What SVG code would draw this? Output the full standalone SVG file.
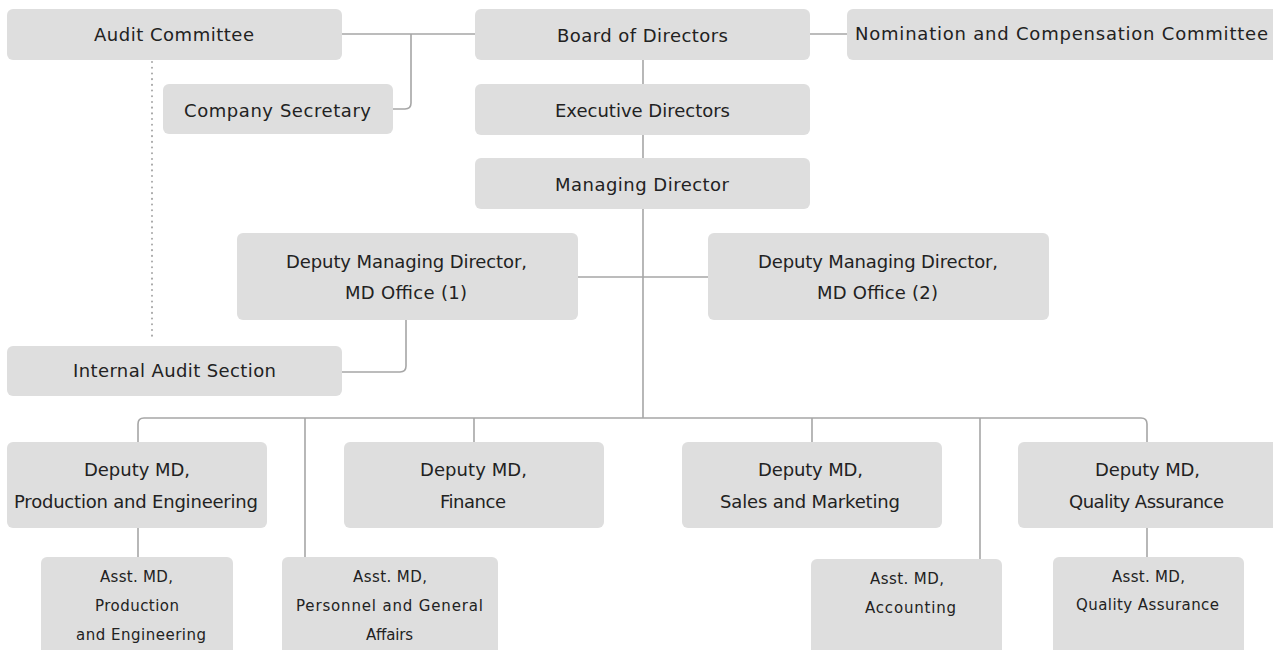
<svg xmlns="http://www.w3.org/2000/svg" width="1273" height="650" viewBox="0 0 1273 650">
<style>
  .box { fill: #dedede; }
  .t { font-family: "DejaVu Sans", "Noto Sans", sans-serif; font-size: 18px; fill: #222; text-anchor: middle; }
  .s { font-family: "DejaVu Sans", "Noto Sans", sans-serif; font-size: 15px; fill: #222; text-anchor: middle; }
  .c { fill: none; stroke: #a6a6a6; stroke-width: 1.6; }
  .d { fill: none; stroke: #a6a6a6; stroke-width: 2; stroke-dasharray: 0.1 5.6; stroke-linecap: round; }
</style>
<rect width="1273" height="650" fill="#ffffff"/>
<g id="connectors">
  <path class="c" d="M342,34 H475"/>
  <path class="c" d="M393,109 H405 Q411,109 411,103 V34"/>
  <path class="c" d="M810,34 H847"/>
  <path class="c" d="M643,60 V84"/>
  <path class="c" d="M643,135 V158"/>
  <path class="c" d="M643,209 V418"/>
  <path class="c" d="M578,277 H708"/>
  <path class="c" d="M406,320 V366 Q406,372 400,372 H342"/>
  <path class="d" d="M152,62 V341"/>
  <path class="c" d="M138,442 V424 Q138,418 144,418 H1141 Q1147,418 1147,424 V442"/>
  <path class="c" d="M474,418 V442"/>
  <path class="c" d="M812,418 V442"/>
  <path class="c" d="M305,418 V557"/>
  <path class="c" d="M980,418 V559"/>
  <path class="c" d="M138,528 V557"/>
  <path class="c" d="M1147,528 V557"/>
</g>
<g id="audit-committee">
  <rect class="box" x="7" y="9" width="335" height="51" rx="6"/>
  <text class="t" x="174" y="41" textLength="160" lengthAdjust="spacing">Audit Committee</text>
</g>
<g id="board">
  <rect class="box" x="475" y="9" width="335" height="51" rx="6"/>
  <text class="t" x="642.5" y="42" textLength="171" lengthAdjust="spacing">Board of Directors</text>
</g>
<g id="nomination">
  <rect class="box" x="847" y="9" width="440" height="51" rx="6"/>
  <text class="t" x="1061.5" y="40" textLength="413" lengthAdjust="spacing">Nomination and Compensation Committee</text>
</g>
<g id="company-secretary">
  <rect class="box" x="163" y="84" width="230" height="50" rx="6"/>
  <text class="t" x="277.5" y="117" textLength="187" lengthAdjust="spacing">Company Secretary</text>
</g>
<g id="executive">
  <rect class="box" x="475" y="84" width="335" height="51" rx="6"/>
  <text class="t" x="642.5" y="117" textLength="175" lengthAdjust="spacing">Executive Directors</text>
</g>
<g id="managing">
  <rect class="box" x="475" y="158" width="335" height="51" rx="6"/>
  <text class="t" x="642" y="191" textLength="174" lengthAdjust="spacing">Managing Director</text>
</g>
<g id="dmd1">
  <rect class="box" x="237" y="233" width="341" height="87" rx="6"/>
  <text class="t" x="406.5" y="268" textLength="241" lengthAdjust="spacing">Deputy Managing Director,</text>
  <text class="t" x="406" y="299" textLength="122" lengthAdjust="spacing">MD Office (1)</text>
</g>
<g id="dmd2">
  <rect class="box" x="708" y="233" width="341" height="87" rx="6"/>
  <text class="t" x="878" y="268" textLength="240" lengthAdjust="spacing">Deputy Managing Director,</text>
  <text class="t" x="877.5" y="299" textLength="121" lengthAdjust="spacing">MD Office (2)</text>
</g>
<g id="internal-audit">
  <rect class="box" x="7" y="346" width="335" height="50" rx="6"/>
  <text class="t" x="174.5" y="377" textLength="203" lengthAdjust="spacing">Internal Audit Section</text>
</g>
<g id="dmd-production">
  <rect class="box" x="7" y="442" width="260" height="86" rx="6"/>
  <text class="t" x="137" y="476" textLength="106" lengthAdjust="spacing">Deputy MD,</text>
  <text class="t" x="136" y="508" textLength="244" lengthAdjust="spacing">Production and Engineering</text>
</g>
<g id="dmd-finance">
  <rect class="box" x="344" y="442" width="260" height="86" rx="6"/>
  <text class="t" x="473.5" y="476" textLength="107" lengthAdjust="spacing">Deputy MD,</text>
  <text class="t" x="473" y="508" textLength="66" lengthAdjust="spacing">Finance</text>
</g>
<g id="dmd-sales">
  <rect class="box" x="682" y="442" width="260" height="86" rx="6"/>
  <text class="t" x="810.5" y="476" textLength="105" lengthAdjust="spacing">Deputy MD,</text>
  <text class="t" x="810" y="508" textLength="180" lengthAdjust="spacing">Sales and Marketing</text>
</g>
<g id="dmd-qa">
  <rect class="box" x="1018" y="442" width="270" height="86" rx="6"/>
  <text class="t" x="1147.5" y="476" textLength="105" lengthAdjust="spacing">Deputy MD,</text>
  <text class="t" x="1146.5" y="508" textLength="155" lengthAdjust="spacing">Quality Assurance</text>
</g>
<g id="asst-production">
  <rect class="box" x="41" y="557" width="192" height="110" rx="6"/>
  <text class="s" x="136.5" y="582" textLength="73" lengthAdjust="spacing">Asst. MD,</text>
  <text class="s" x="137" y="611" textLength="84" lengthAdjust="spacing">Production</text>
  <text class="s" x="141" y="640" textLength="130" lengthAdjust="spacing">and Engineering</text>
</g>
<g id="asst-personnel">
  <rect class="box" x="282" y="557" width="216" height="110" rx="6"/>
  <text class="s" x="390" y="582" textLength="74" lengthAdjust="spacing">Asst. MD,</text>
  <text class="s" x="389.5" y="611" textLength="187" lengthAdjust="spacing">Personnel and General</text>
  <text class="s" x="389.5" y="640" textLength="47" lengthAdjust="spacing">Affairs</text>
</g>
<g id="asst-accounting">
  <rect class="box" x="811" y="559" width="191" height="110" rx="6"/>
  <text class="s" x="907" y="584" textLength="74" lengthAdjust="spacing">Asst. MD,</text>
  <text class="s" x="910.5" y="613" textLength="91" lengthAdjust="spacing">Accounting</text>
</g>
<g id="asst-qa">
  <rect class="box" x="1053" y="557" width="191" height="110" rx="6"/>
  <text class="s" x="1148.5" y="582" textLength="73" lengthAdjust="spacing">Asst. MD,</text>
  <text class="s" x="1147.5" y="610" textLength="143" lengthAdjust="spacing">Quality Assurance</text>
</g>
</svg>
